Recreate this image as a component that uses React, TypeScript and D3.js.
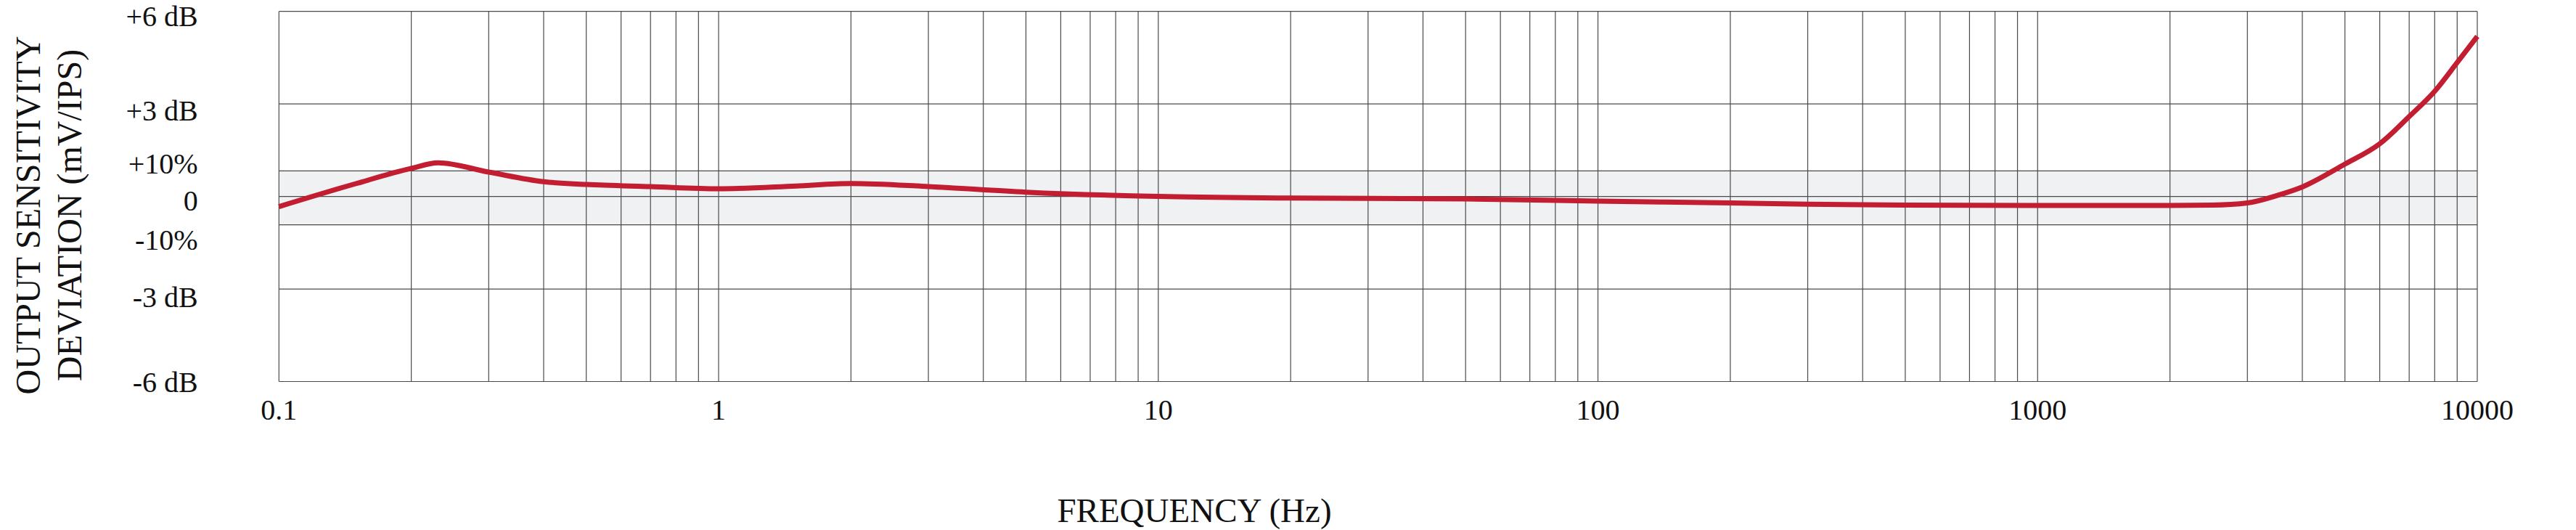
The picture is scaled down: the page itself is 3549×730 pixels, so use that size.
import { useEffect, useRef } from "react";
import * as d3 from "d3";

// frequency response (Hz, dB deviation)
const freqHz = [
  0.1, 0.15, 0.2, 0.23, 0.3, 0.4, 0.5, 0.7, 1, 1.5, 2, 3, 5, 10, 20, 50, 100,
  200, 300, 500, 1000, 2000, 2500, 3000, 3500, 4000, 5000, 6000, 7000, 8000,
  9000, 10000,
];
const deviationDb = [
  -0.33, 0.42, 0.91, 1.09, 0.79, 0.48, 0.39, 0.32, 0.25, 0.34, 0.42, 0.32,
  0.14, 0.0, -0.05, -0.08, -0.15, -0.21, -0.25, -0.28, -0.29, -0.29, -0.28,
  -0.21, 0.03, 0.31, 1.05, 1.71, 2.59, 3.41, 4.34, 5.19,
];

const xTickValues = [0.1, 1, 10, 100, 1000, 10000];
const xTickLabels = ["0.1", "1", "10", "100", "1000", "10000"];

const yTickValues = [6, 3, 0.83, 0, -0.92, -3, -6];
const yTickLabels = ["+6 dB", "+3 dB", "+10%", "0", "-10%", "-3 dB", "-6 dB"];
// baseline nudge of each y label relative to its grid line
const yLabelNudge = [20.5, 23, 4, 19.4, 34.6, 25.3, 14.5];

const tolerance = [-0.92, 0.83];

const W = 3549;
const H = 730;
const margin = { top: 15.7, right: 136, bottom: 204.5, left: 384.3 };
const FONT = "'Liberation Serif', 'Times New Roman', serif";

export default function App() {
  const svgRef = useRef<SVGSVGElement | null>(null);

  useEffect(() => {
    if (!svgRef.current) return;
    const svg = d3.select(svgRef.current);
    svg.selectAll("*").remove();

    const x = d3
      .scaleLog()
      .domain([0.1, 10000])
      .range([margin.left, W - margin.right]);
    const y = d3
      .scaleLinear()
      .domain([-6, 6])
      .range([H - margin.bottom, margin.top]);

    // tolerance band
    svg
      .append("rect")
      .attr("x", x(0.1))
      .attr("y", y(tolerance[1]))
      .attr("width", x(10000) - x(0.1))
      .attr("height", y(tolerance[0]) - y(tolerance[1]))
      .attr("fill", "#eff1f3");

    // vertical grid
    svg
      .append("g")
      .selectAll("line")
      .data(x.ticks())
      .enter()
      .append("line")
      .attr("x1", (d) => x(d))
      .attr("x2", (d) => x(d))
      .attr("y1", y(6))
      .attr("y2", y(-6))
      .attr("stroke", "#4a4a4a")
      .attr("stroke-width", 1.2);

    // horizontal grid
    svg
      .append("g")
      .selectAll("line")
      .data(yTickValues)
      .enter()
      .append("line")
      .attr("x1", x(0.1))
      .attr("x2", x(10000))
      .attr("y1", (d) => y(d))
      .attr("y2", (d) => y(d))
      .attr("stroke", "#4a4a4a")
      .attr("stroke-width", 1.2);

    // response curve
    const pts: [number, number][] = freqHz.map((f, i) => [f, deviationDb[i]]);
    const line = d3
      .line<[number, number]>()
      .x((d) => x(d[0]))
      .y((d) => y(d[1]))
      .curve(d3.curveMonotoneX);
    svg
      .append("path")
      .attr("d", line(pts))
      .attr("fill", "none")
      .attr("stroke", "#c21d31")
      .attr("stroke-width", 7);

    // y tick labels
    svg
      .append("g")
      .selectAll("text")
      .data(yTickValues)
      .enter()
      .append("text")
      .attr("x", 272.7)
      .attr("y", (d, i) => y(d) + yLabelNudge[i])
      .attr("text-anchor", "end")
      .attr("font-family", FONT)
      .attr("font-size", 40)
      .attr("fill", "#111")
      .text((_, i) => yTickLabels[i]);

    // x tick labels
    svg
      .append("g")
      .selectAll("text")
      .data(xTickValues)
      .enter()
      .append("text")
      .attr("x", (d) => x(d))
      .attr("y", 577.7)
      .attr("text-anchor", "middle")
      .attr("font-family", FONT)
      .attr("font-size", 40)
      .attr("fill", "#111")
      .text((_, i) => xTickLabels[i]);

    // axis titles
    svg
      .append("text")
      .attr("x", 1645.5)
      .attr("y", 719)
      .attr("text-anchor", "middle")
      .attr("font-family", FONT)
      .attr("font-size", 47)
      .attr("fill", "#111")
      .text("FREQUENCY (Hz)");

    const yTitle = svg
      .append("g")
      .attr("transform", "translate(0, 296.5) rotate(-90)")
      .attr("font-family", FONT)
      .attr("font-size", 48)
      .attr("fill", "#111")
      .attr("text-anchor", "middle");
    yTitle.append("text").attr("x", 0).attr("y", 55).text("OUTPUT SENSITIVITY");
    yTitle.append("text").attr("x", 0).attr("y", 111.7).text("DEVIATION (mV/IPS)");
  }, []);

  return (
    <svg
      ref={svgRef}
      width={W}
      height={H}
      style={{ position: "absolute", left: 0, top: 0, background: "#fff" }}
    ></svg>
  );
}
